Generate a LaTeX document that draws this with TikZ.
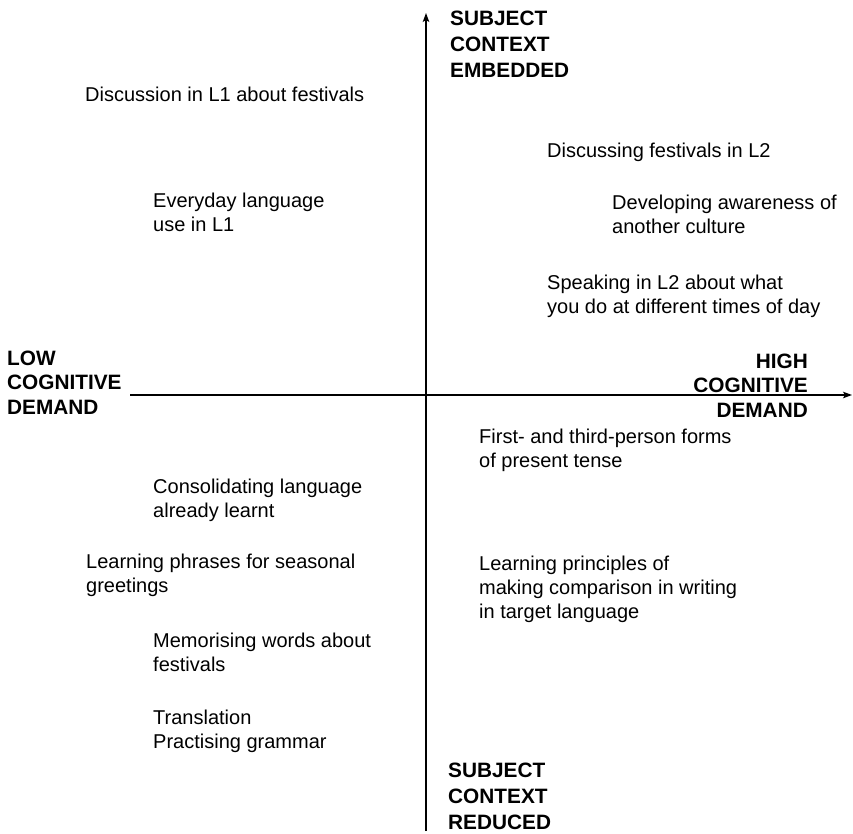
\documentclass[tikz,border=0pt]{standalone}
\usepackage{fontspec}
\setmainfont{Liberation Sans}
\usetikzlibrary{arrows.meta}
\newcommand{\txtl}[1]{\begin{tabular}[t]{@{}l@{}}#1\end{tabular}}
\newcommand{\txtr}[1]{\begin{tabular}[t]{@{}r@{}}#1\end{tabular}}
\begin{document}
\begin{tikzpicture}[x=1pt,y=-1pt,
  lbl/.style={inner sep=0pt, anchor=base west, font=\fontsize{20}{24}\selectfont},
  axlbl/.style={inner sep=0pt, anchor=base west, font=\fontsize{20.8}{24.5}\selectfont\bfseries},
  axlblv/.style={inner sep=0pt, anchor=base west, font=\fontsize{20.8}{26}\selectfont\bfseries},
  axisline/.style={line width=1.2pt, -{Stealth[length=9pt,width=6.5pt,inset=2pt]}}]
\useasboundingbox (0,0) rectangle (853,834);

% axes
\coordinate (hstart) at (130,395);
\coordinate (hend) at (852,395);
\coordinate (vstart) at (426,831);
\coordinate (vend) at (426,13);
\draw[axisline] (hstart) -- (hend);
\draw[axisline] (vstart) -- (vend);

% axis labels
\node[axlblv] (embedded) at (450,26) {\txtl{SUBJECT\\CONTEXT\\EMBEDDED}};
\node[axlblv] (reduced) at (448,777) {\txtl{SUBJECT\\CONTEXT\\REDUCED}};
\node[axlbl] (low) at (7,365) {\txtl{LOW\\COGNITIVE\\DEMAND}};
\node[axlbl, anchor=base east] (high) at (808,368) {\txtr{HIGH\\COGNITIVE\\DEMAND}};

% top-left quadrant
\node[lbl] (disc1) at (85,102) {\txtl{Discussion in L1 about festivals}};
\node[lbl] (everyday) at (153,208) {\txtl{Everyday language\\use in L1}};

% top-right quadrant
\node[lbl] (disc2) at (547,158) {\txtl{Discussing festivals in L2}};
\node[lbl] (awareness) at (612,210) {\txtl{Developing awareness of\\another culture}};
\node[lbl] (speaking) at (547,289) {\txtl{Speaking in L2 about what\\you do at different times of day}};

% bottom-right quadrant
\node[lbl] (forms) at (479,443) {\txtl{First- and third-person forms\\of present tense}};
\node[lbl] (principles) at (479,570) {\txtl{Learning principles of\\making comparison in writing\\in target language}};

% bottom-left quadrant
\node[lbl] (consol) at (153,493) {\txtl{Consolidating language\\already learnt}};
\node[lbl] (phrases) at (86,568) {\txtl{Learning phrases for seasonal\\greetings}};
\node[lbl] (memor) at (153,647) {\txtl{Memorising words about\\festivals}};
\node[lbl] (transl) at (153,724) {\txtl{Translation\\Practising grammar}};
\end{tikzpicture}
\end{document}
